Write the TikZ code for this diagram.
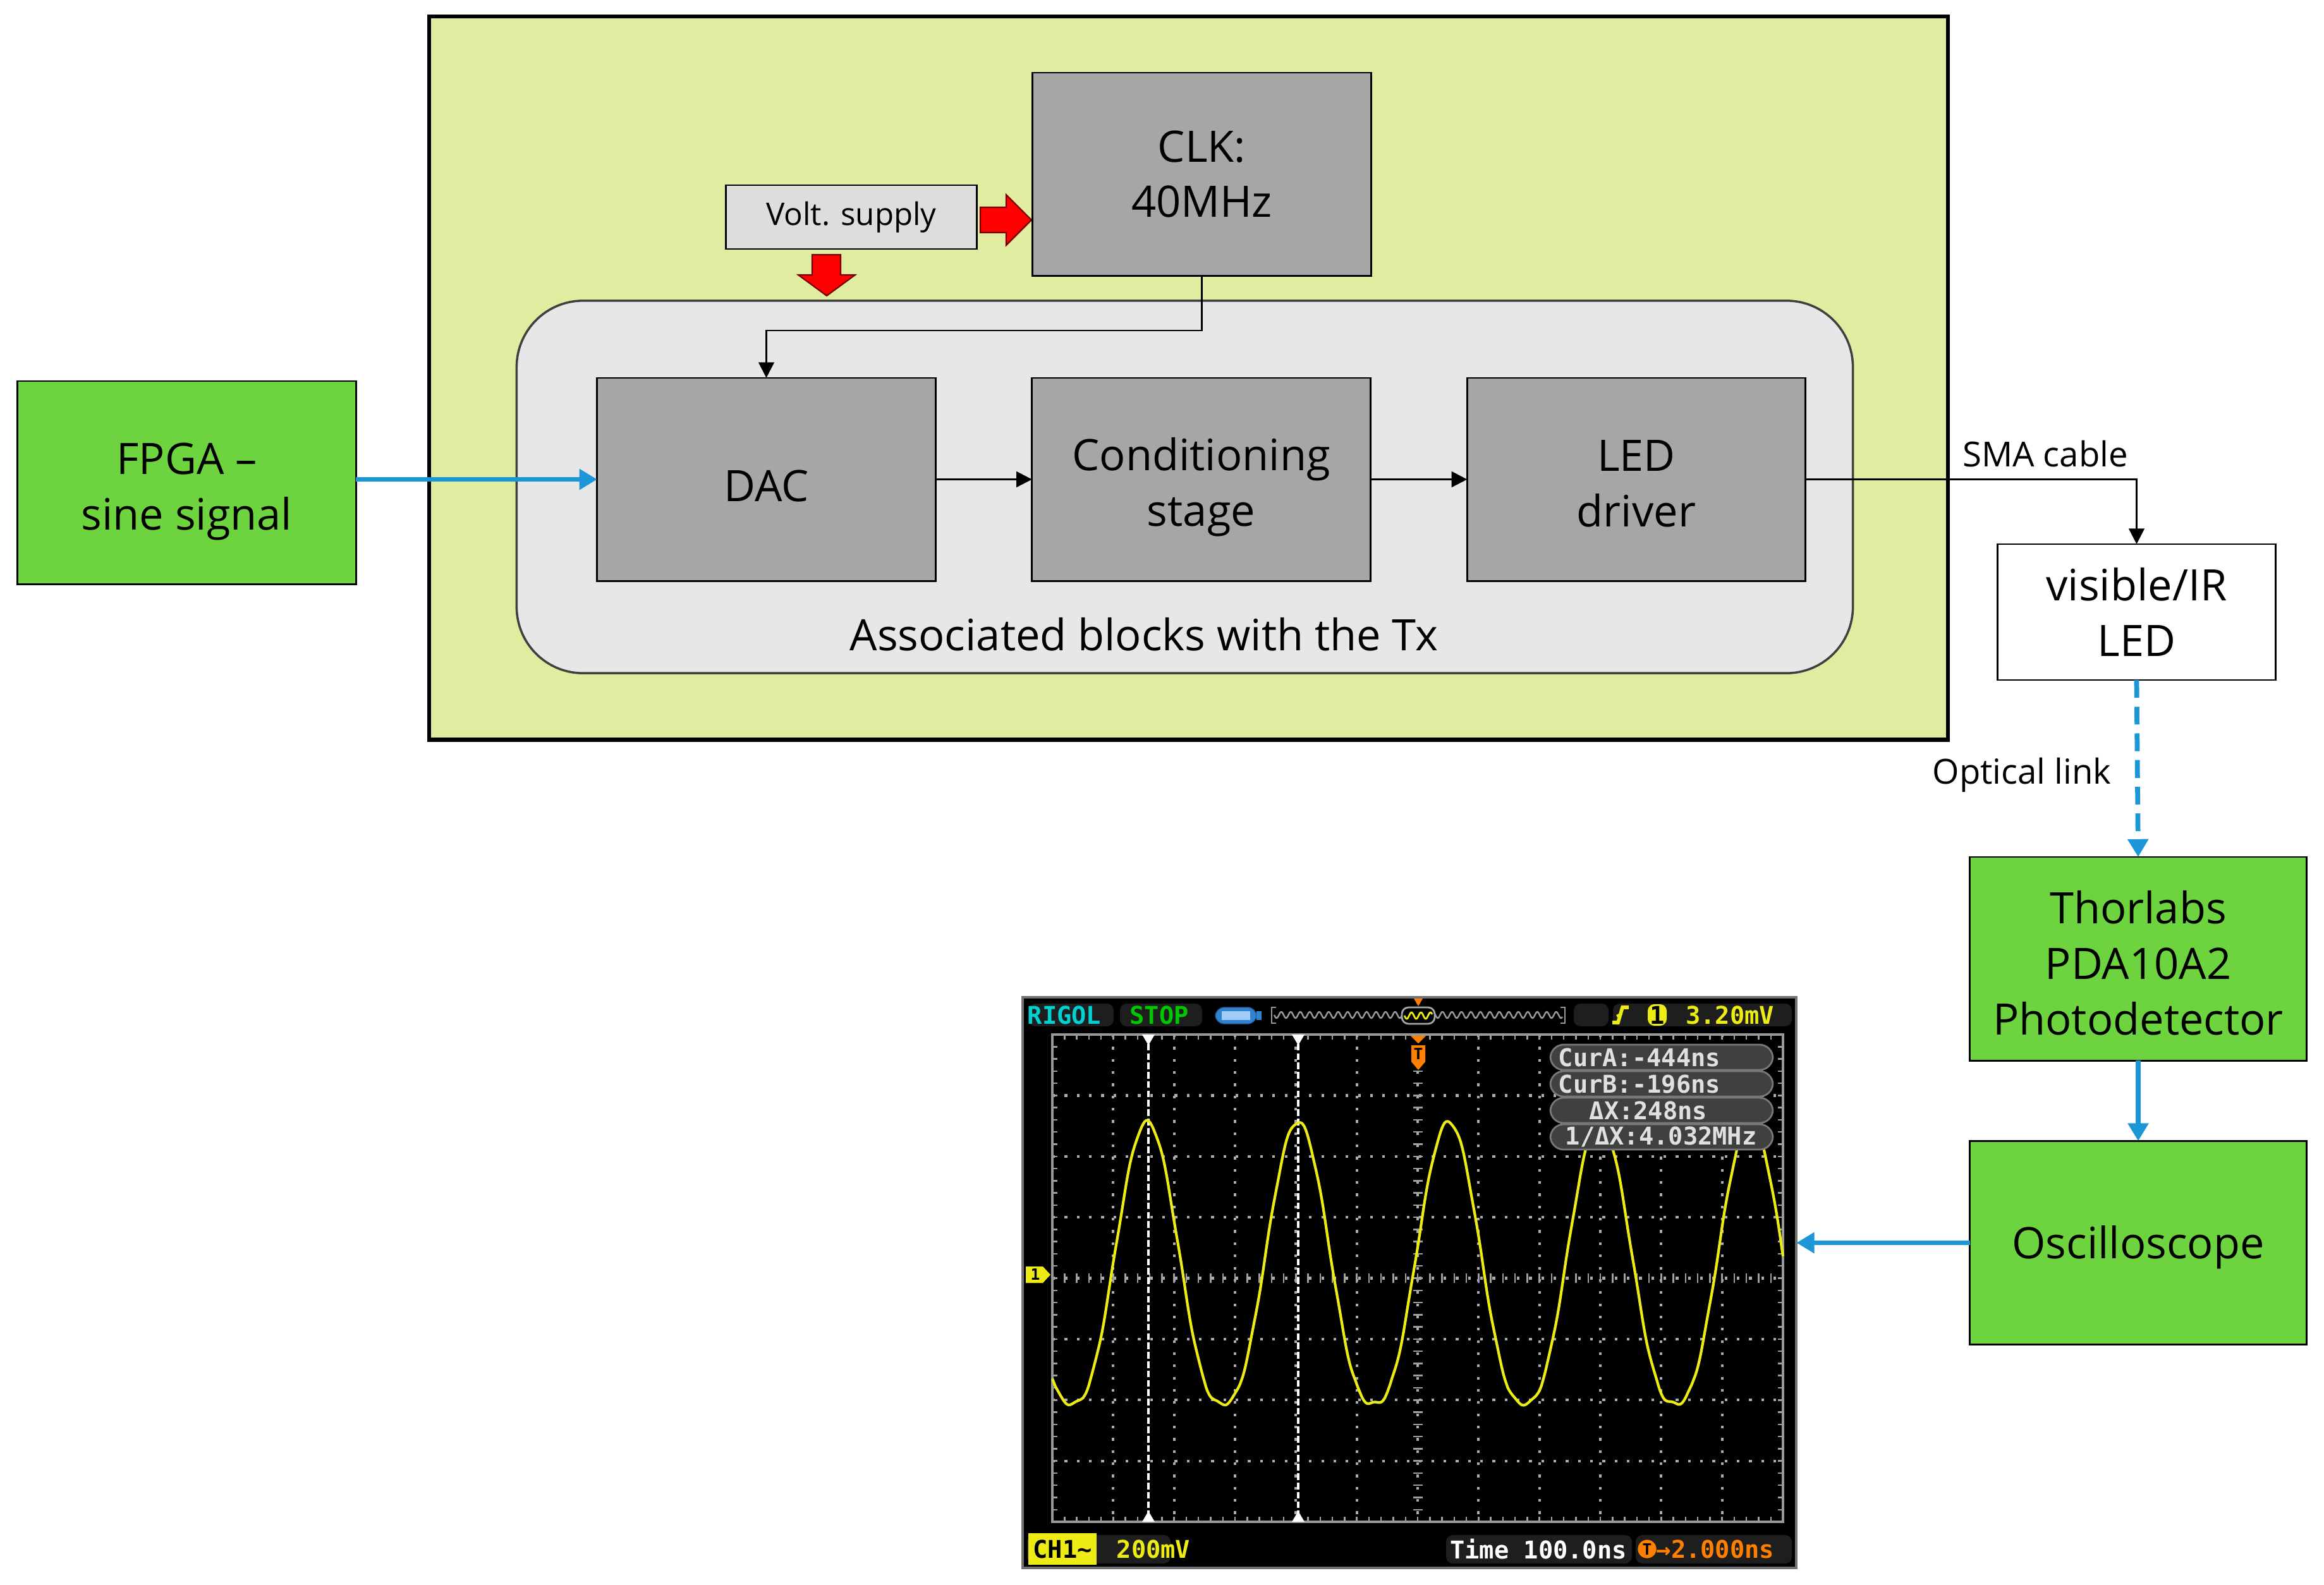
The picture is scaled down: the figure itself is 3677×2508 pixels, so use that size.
\documentclass[tikz,border=0pt]{standalone}
\usepackage{fontspec}
\setmainfont{Open Sans}
\newfontfamily\scopefont{DejaVu Sans Mono}
\usetikzlibrary{arrows.meta,calc}
\definecolor{outergreen}{RGB}{224,236,160}
\definecolor{blockgrey}{RGB}{166,166,166}
\definecolor{roundgrey}{RGB}{231,231,231}
\definecolor{voltgrey}{RGB}{221,221,221}
\definecolor{brightgreen}{RGB}{109,212,63}
\definecolor{linkblue}{RGB}{27,150,214}
\definecolor{scopeyellow}{RGB}{236,236,20}
\definecolor{scopecyan}{RGB}{0,210,210}
\definecolor{scopegreen}{RGB}{0,200,0}
\definecolor{scopeorange}{RGB}{255,128,0}
\definecolor{scpanel}{RGB}{30,30,30}
\definecolor{infogrey}{RGB}{64,64,64}
\definecolor{infoedge}{RGB}{120,120,120}
\definecolor{batblue}{RGB}{50,130,210}
\definecolor{batlight}{RGB}{160,205,250}
\newcommand\mainfs{\fontsize{19.5}{25}\selectfont}
\newcommand\scopefs{\scopefont\bfseries\fontsize{11}{11}\selectfont}
\begin{document}
\begin{tikzpicture}[x=0.01cm,y=-0.01cm,
  box/.style={draw=black, line width=0.8pt, inner sep=0pt, outer sep=0pt, align=center, font=\mainfs},
  greybox/.style={box, fill=blockgrey, minimum width=5.35cm, minimum height=3.21cm},
  greenbox/.style={box, fill=brightgreen, minimum width=5.32cm, minimum height=3.22cm},
  boxtext/.style={font=\mainfs, align=center, inner sep=0pt},
  conn/.style={draw=black, line width=0.8pt, -{Triangle[length=7pt,width=7pt]}},
  bluelink/.style={draw=linkblue, line width=2.2pt, -{Triangle[length=8pt,width=9pt]}},
  lbl/.style={font=\fontsize{15.5}{18}\selectfont, inner sep=0pt},
  sctext/.style={font=\scopefs, inner sep=0pt},
  dotline/.style={draw=gray!65, line width=1.2pt, dash pattern=on 1.2pt off 4.3pt},
  gridline/.style={draw=gray!75, line width=0.7pt},
  redarrow/.style={fill=red, draw=red!45!black, line width=0.6pt}
]
\useasboundingbox (0,0) rectangle (3677,2508);
\fill[white] (0,0) rectangle (3677,2508);

% ---------- Tx board ----------
\node[draw=black, line width=1.8pt, fill=outergreen, minimum width=24.01cm, minimum height=11.44cm, inner sep=0pt, outer sep=0pt] (tx) at (1880.5,598) {};
\node[draw=black!75, line width=1pt, fill=roundgrey, rounded corners=1.05cm, minimum width=21.13cm, minimum height=5.89cm, inner sep=0pt, outer sep=0pt] (assoc) at (1874.5,770.5) {};
\node[font=\mainfs, inner sep=0pt] (assoclbl) at (1810,1004) {Associated blocks with the Tx};

\node[greybox] (clk) at (1901.5,275.5) {CLK:\\40MHz};
\node[box, fill=voltgrey, minimum width=3.96cm, minimum height=1.01cm, font=\fontsize{14}{16}\selectfont] (volt) at (1347,343.5) {Volt. supply};
\node[greybox, label={[boxtext, name=dactext, yshift=-3pt]center:DAC}] (dac) at (1212.5,758.5) {};
\node[greybox, label={[boxtext, name=condtext, yshift=-3.5pt]center:{Conditioning\\stage}}] (cond) at (1900.5,758.5) {};
\node[greybox, label={[boxtext, name=drvtext, yshift=-2pt]center:{LED\\driver}}] (drv) at (2589,758.5) {};

% red supply arrows
\filldraw[redarrow] (1551,328) -- (1592,328) -- (1592,308) -- (1632,348) -- (1592,388) -- (1592,368) -- (1551,368) -- cycle;
\filldraw[redarrow] (1285,403) -- (1330,403) -- (1330,435) -- (1353,435) -- (1308,468) -- (1263,435) -- (1285,435) -- cycle;

% ---------- outside blocks ----------
\node[greenbox, minimum width=5.35cm, minimum height=3.21cm, label={[boxtext, name=fpgatext, yshift=-4pt]center:{FPGA –\\sine signal}}] (fpga) at (295.5,763.5) {};
\node[box, fill=white, minimum width=4.39cm, minimum height=2.15cm] (led) at (3380.5,968.5) {visible/IR\\LED};
\node[greenbox, label={[boxtext, name=pdtext, yshift=-2pt]center:{Thorlabs\\PDA10A2\\Photodetector}}] (pd) at (3383,1517) {};
\node[greenbox, label={[boxtext, name=osctext, yshift=-2pt]center:Oscilloscope}] (osc) at (3383,1966.5) {};

% ---------- oscilloscope screenshot ----------
\node[draw=black!55, line width=1.2pt, fill=black, minimum width=12.24cm, minimum height=9.03cm, inner sep=0pt, outer sep=0pt] (scope) at (2230,2029.5) {};

% header
\fill[scpanel, rounded corners=3pt] (1628,1588) rectangle (1762,1624);
\fill[scpanel, rounded corners=3pt] (1772,1588) rectangle (1902,1624);
\fill[scpanel, rounded corners=3pt] (2490,1588) rectangle (2545,1624);
\fill[scpanel, rounded corners=3pt] (2552,1588) rectangle (2835,1624);
\node[sctext, text=scopecyan] (rigol) at (1684,1606) {RIGOL};
\node[sctext, text=scopegreen] (stop) at (1834,1606) {STOP};
\filldraw[fill=batblue, draw=batblue!70!black, rounded corners=4pt] (1923,1594) rectangle (1988,1620);
\fill[batlight] (1933,1600) rectangle (1978,1614);
\fill[batblue] (1988,1600) rectangle (1996,1614);
\draw[gray!80, line width=0.8pt] (2019,1594) -- (2012,1594) -- (2012,1619) -- (2019,1619);
\draw[gray!80, line width=0.7pt] (2469,1594) -- (2476,1594) -- (2476,1619) -- (2469,1619);
\draw[gray!80, line width=0.7pt] plot[domain=2016:2472, samples=300] (\x,{1606+5*sin(24*(\x-2016))});
\filldraw[fill=black, draw=gray!70, rounded corners=3pt, line width=0.8pt] (2218,1594) rectangle (2270,1620);
\draw[scopeyellow, line width=0.8pt] plot[domain=2222:2266, samples=60] (\x,{1607+5*sin(24*(\x-2222))});
\fill[scopeorange] (2237,1580) -- (2251,1580) -- (2244,1592) -- cycle;
\draw[scopeyellow, line width=1.6pt] (2551,1618) -- (2560,1618) -- (2567,1594) -- (2577,1594);
\draw[scopeyellow, line width=1.2pt] (2558,1608) -- (2566,1604);
\node[fill=scopeyellow, rounded corners=3pt, text=black, sctext, minimum width=0.3cm, minimum height=0.34cm] (trigch) at (2622,1606) {1};
\node[sctext, text=scopeyellow] (triglvl) at (2737,1606) {3.20mV};

% grid
\foreach \i in {1,...,11} \draw[dotline] ({1665+\i*96.33},1637) -- ({1665+\i*96.33},2408);
\foreach \j in {1,...,7} \draw[dotline] (1665,{1637+\j*96.375}) -- (2821,{1637+\j*96.375});
\foreach \k in {0,...,60} {
  \draw[gridline] ({1665+\k*19.267},2015) -- ++(0,15);
  \draw[gridline] ({1665+\k*19.267},1637) -- ++(0,8);
  \draw[gridline] ({1665+\k*19.267},2408) -- ++(0,-8);
}
\foreach \k in {0,...,40} {
  \draw[gridline] (2236,{1637+\k*19.275}) -- ++(15,0);
  \draw[gridline] (1665,{1637+\k*19.275}) -- ++(8,0);
  \draw[gridline] (2821,{1637+\k*19.275}) -- ++(-8,0);
}
\draw[draw=gray!80, line width=1pt] (1665,1637) rectangle (2821,2408);

% cursors
\draw[white, line width=1.3pt, dash pattern=on 3pt off 1.2pt] (1817,1637) -- (1817,2408);
\draw[white, line width=1.3pt, dash pattern=on 3pt off 1.2pt] (2054,1637) -- (2054,2408);
\fill[white] (1807,1637) -- (1827,1637) -- (1817,1654) -- cycle;
\fill[white] (2044,1637) -- (2064,1637) -- (2054,1654) -- cycle;
\fill[white] (1807,2408) -- (1827,2408) -- (1817,2391) -- cycle;
\fill[white] (2044,2408) -- (2064,2408) -- (2054,2391) -- cycle;

% trigger position marker
\fill[scopeorange] (2232,1639) -- (2256,1639) -- (2244,1651) -- cycle;
\fill[scopeorange] (2233,1654) -- (2255,1654) -- (2255,1680) -- (2244,1693) -- (2233,1680) -- cycle;
\node[font=\scopefont\bfseries\fontsize{7}{7}\selectfont, text=black, inner sep=0pt] (tpos) at (2244,1668) {T};

% channel marker
\fill[scopeyellow] (1623,2004) -- (1650,2004) -- (1662,2017) -- (1650,2030) -- (1623,2030) -- cycle;
\node[font=\scopefont\bfseries\fontsize{7}{7}\selectfont, text=black, inner sep=0pt] (chmark) at (1638,2017) {1};

% waveform
\draw[scopeyellow, line width=1.2pt, line join=round] plot[domain=1665:2821, samples=500] (\x, {2221 - 446*((1.0001+cos(1.5088*(\x-1815)))/2.0001)^1.28 + 2.5*sin(13*(\x-1600))});

% cursor info
\filldraw[fill=infogrey, draw=infoedge, line width=0.8pt, rounded corners=6pt] (2453,1653) rectangle (2805,1693);
\filldraw[fill=infogrey, draw=infoedge, line width=0.8pt, rounded corners=6pt] (2453,1695) rectangle (2805,1735);
\filldraw[fill=infogrey, draw=infoedge, line width=0.8pt, rounded corners=6pt] (2453,1737) rectangle (2805,1777);
\filldraw[fill=infogrey, draw=infoedge, line width=0.8pt, rounded corners=6pt] (2453,1779) rectangle (2805,1819);
\node[sctext, text=white!88!black, anchor=west] (cura) at (2465,1673) {CurA:-444ns};
\node[sctext, text=white!88!black, anchor=west] (curb) at (2465,1715) {CurB:-196ns};
\node[sctext, text=white!88!black, anchor=west] (dx) at (2514,1757) {ΔX:248ns};
\node[sctext, text=white!88!black, anchor=west] (invdx) at (2476,1799) {1/ΔX:4.032MHz};

% bottom bar
\fill[scpanel, rounded corners=3pt] (1625,2429) rectangle (1852,2474);
\node[fill=scopeyellow, text=black, sctext, inner xsep=2pt, inner ysep=3pt] (ch1) at (1681,2451) {CH1\textasciitilde};
\node[sctext, text=scopeyellow] (vdiv) at (1825,2451) {200mV};
\fill[scpanel, rounded corners=3pt] (2288,2429) rectangle (2582,2474);
\node[sctext, text=white] (tdiv) at (2434,2451) {Time 100.0ns};
\fill[scpanel, rounded corners=3pt] (2588,2429) rectangle (2835,2474);
\node[circle, fill=scopeorange, inner sep=0.6pt, font=\scopefont\bfseries\fontsize{7}{7}\selectfont, text=black] (tmark) at (2606,2451) {T};
\node[sctext, text=scopeorange, anchor=west] (toff) at (2620,2451) {→2.000ns};

% ---------- connectors ----------
\coordinate (clkbend) at ($(dac.north)+(0,-75)$);
\draw[conn] (clk.south) |- (clkbend) -- (dac.north);
\draw[bluelink] (fpga.east |- dac.west) -- (dac.west);
\draw[conn] (dac.east) -- (cond.west);
\draw[conn] (cond.east) -- (drv.west);
\draw[conn] (drv.east) -| (led.north);
\node[lbl] (sma) at (3236,718) {SMA cable};
\draw[bluelink, dash pattern=on 8pt off 4pt] (led.south) -- (pd.north);
\node[lbl] (optlbl) at (3199,1226) {Optical link};
\draw[bluelink] (pd.south) -- (osc.north);
\draw[bluelink] (osc.west) -- (osc.west -| scope.east);
\end{tikzpicture}
\end{document}
